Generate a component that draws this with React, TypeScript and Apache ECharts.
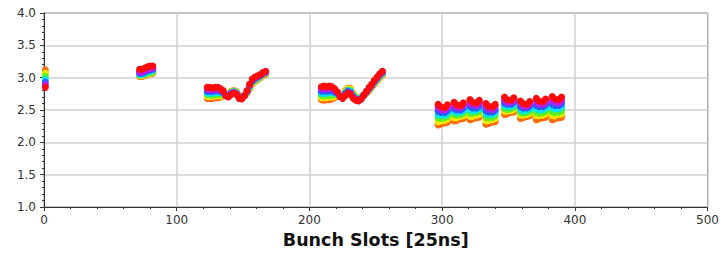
import React, { useEffect, useRef } from "react";
import * as echarts from "echarts";

// Colours of the successive measurements (first -> last)
const seriesColors = ["#ff6a00", "#f2e600", "#58f028", "#00e4f0", "#2a5cff", "#b81cf0", "#ff0a0a"];
const seriesNames = ["t0", "t1", "t2", "t3", "t4", "t5", "t6"];

// Bunch slots of each group
const slotsA = [1];
const slotsB = [72, 74, 76, 78, 80, 82];
const slotsC = [123, 125, 127, 129, 131, 133, 135, 137, 139, 141, 143, 145, 147, 149, 151, 153, 155, 157, 159, 161, 163, 165, 167];
const slotsD = [209, 211, 213, 215, 217, 219, 221, 223, 225, 227, 229, 231, 233, 235, 237, 239, 241, 243, 245, 247, 249, 251, 253, 255];
const slotsE = [
  297, 299, 302, 304, 309, 311, 314, 316, 321, 323, 326, 328, 333, 335, 338, 340,
  347, 349, 352, 354, 359, 361, 364, 366, 371, 373, 376, 378, 383, 385, 388, 390,
];

// Values, one row per measurement (first -> last)
const valuesA = [[3.12], [3.07], [3.02], [2.97], [2.93], [2.89], [2.85]];

const valuesB = [
  [3.02, 3.02, 3.03, 3.05, 3.06, 3.07],
  [3.03, 3.03, 3.04, 3.06, 3.07, 3.08],
  [3.04, 3.04, 3.05, 3.07, 3.08, 3.09],
  [3.05, 3.05, 3.07, 3.09, 3.10, 3.11],
  [3.07, 3.07, 3.09, 3.11, 3.12, 3.13],
  [3.09, 3.09, 3.11, 3.13, 3.14, 3.15],
  [3.13, 3.13, 3.15, 3.17, 3.18, 3.18],
];

const valuesC = [
  [2.68, 2.68, 2.68, 2.69, 2.69, 2.70, 2.72, 2.73, 2.75, 2.79, 2.80, 2.78, 2.73, 2.71, 2.72, 2.76, 2.83, 2.90, 2.94, 2.97, 3.00, 3.03, 3.05],
  [2.71, 2.71, 2.71, 2.72, 2.72, 2.72, 2.73, 2.73, 2.74, 2.78, 2.79, 2.77, 2.72, 2.70, 2.72, 2.77, 2.84, 2.91, 2.95, 2.98, 3.01, 3.04, 3.06],
  [2.74, 2.74, 2.73, 2.74, 2.74, 2.74, 2.75, 2.73, 2.73, 2.77, 2.79, 2.77, 2.71, 2.70, 2.72, 2.77, 2.85, 2.93, 2.96, 2.99, 3.02, 3.05, 3.07],
  [2.76, 2.76, 2.76, 2.77, 2.77, 2.77, 2.76, 2.73, 2.73, 2.77, 2.78, 2.76, 2.71, 2.69, 2.72, 2.78, 2.87, 2.94, 2.98, 3.00, 3.03, 3.06, 3.08],
  [2.79, 2.79, 2.79, 2.80, 2.80, 2.79, 2.77, 2.72, 2.72, 2.76, 2.77, 2.75, 2.70, 2.68, 2.72, 2.79, 2.88, 2.95, 2.99, 3.01, 3.03, 3.06, 3.08],
  [2.82, 2.82, 2.81, 2.82, 2.82, 2.81, 2.79, 2.72, 2.71, 2.75, 2.77, 2.75, 2.69, 2.68, 2.72, 2.79, 2.89, 2.97, 3.00, 3.02, 3.04, 3.07, 3.09],
  [2.85, 2.85, 2.84, 2.85, 2.85, 2.83, 2.80, 2.72, 2.70, 2.74, 2.76, 2.74, 2.68, 2.67, 2.72, 2.80, 2.90, 2.98, 3.01, 3.03, 3.05, 3.08, 3.10],
];

const valuesD = [
  [2.66, 2.65, 2.66, 2.66, 2.67, 2.69, 2.71, 2.72, 2.74, 2.80, 2.84, 2.83, 2.76, 2.70, 2.68, 2.69, 2.72, 2.76, 2.80, 2.85, 2.90, 2.95, 3.00, 3.04],
  [2.69, 2.69, 2.69, 2.70, 2.70, 2.71, 2.72, 2.72, 2.73, 2.79, 2.83, 2.82, 2.75, 2.69, 2.67, 2.69, 2.72, 2.77, 2.81, 2.86, 2.91, 2.96, 3.01, 3.05],
  [2.73, 2.72, 2.73, 2.73, 2.73, 2.74, 2.73, 2.72, 2.72, 2.77, 2.81, 2.80, 2.73, 2.68, 2.67, 2.68, 2.72, 2.77, 2.82, 2.87, 2.92, 2.97, 3.02, 3.06],
  [2.76, 2.76, 2.76, 2.77, 2.77, 2.76, 2.75, 2.72, 2.71, 2.76, 2.80, 2.79, 2.72, 2.68, 2.66, 2.68, 2.73, 2.78, 2.83, 2.88, 2.93, 2.98, 3.03, 3.07],
  [2.79, 2.80, 2.79, 2.80, 2.80, 2.78, 2.76, 2.71, 2.70, 2.75, 2.79, 2.77, 2.71, 2.67, 2.65, 2.68, 2.73, 2.78, 2.83, 2.88, 2.94, 2.99, 3.04, 3.08],
  [2.83, 2.83, 2.83, 2.84, 2.83, 2.81, 2.77, 2.71, 2.69, 2.73, 2.77, 2.76, 2.69, 2.66, 2.65, 2.67, 2.73, 2.79, 2.84, 2.89, 2.95, 3.00, 3.05, 3.09],
  [2.86, 2.87, 2.86, 2.87, 2.86, 2.83, 2.78, 2.71, 2.68, 2.72, 2.76, 2.74, 2.68, 2.65, 2.64, 2.67, 2.73, 2.79, 2.85, 2.90, 2.96, 3.01, 3.06, 3.10],
];

const valuesE = [
  [2.27, 2.28, 2.30, 2.31, 2.33, 2.34, 2.36, 2.37, 2.35, 2.36, 2.38, 2.39, 2.28, 2.29, 2.31, 2.32,
   2.43, 2.44, 2.46, 2.47, 2.37, 2.38, 2.40, 2.41, 2.35, 2.36, 2.38, 2.39, 2.35, 2.36, 2.38, 2.39],
  [2.32, 2.33, 2.34, 2.36, 2.38, 2.38, 2.40, 2.41, 2.40, 2.40, 2.42, 2.43, 2.33, 2.34, 2.35, 2.37,
   2.48, 2.48, 2.49, 2.51, 2.42, 2.42, 2.43, 2.45, 2.41, 2.41, 2.42, 2.44, 2.41, 2.41, 2.43, 2.44],
  [2.38, 2.37, 2.38, 2.40, 2.43, 2.42, 2.43, 2.45, 2.45, 2.45, 2.46, 2.48, 2.39, 2.38, 2.39, 2.41,
   2.52, 2.51, 2.52, 2.54, 2.46, 2.45, 2.46, 2.48, 2.46, 2.45, 2.46, 2.48, 2.47, 2.46, 2.47, 2.49],
  [2.43, 2.42, 2.42, 2.45, 2.48, 2.46, 2.47, 2.49, 2.51, 2.49, 2.50, 2.52, 2.44, 2.43, 2.43, 2.46,
   2.57, 2.55, 2.56, 2.58, 2.51, 2.49, 2.50, 2.52, 2.52, 2.50, 2.51, 2.53, 2.53, 2.52, 2.52, 2.55],
  [2.48, 2.46, 2.46, 2.49, 2.52, 2.50, 2.50, 2.53, 2.56, 2.53, 2.53, 2.56, 2.49, 2.47, 2.47, 2.50,
   2.61, 2.59, 2.59, 2.62, 2.55, 2.53, 2.53, 2.56, 2.57, 2.55, 2.55, 2.58, 2.59, 2.57, 2.57, 2.60],
  [2.54, 2.51, 2.50, 2.54, 2.57, 2.54, 2.54, 2.57, 2.61, 2.58, 2.57, 2.61, 2.55, 2.52, 2.51, 2.55,
   2.66, 2.62, 2.62, 2.65, 2.60, 2.56, 2.56, 2.59, 2.63, 2.59, 2.59, 2.62, 2.65, 2.62, 2.61, 2.65],
  [2.59, 2.55, 2.54, 2.58, 2.62, 2.58, 2.57, 2.61, 2.66, 2.62, 2.61, 2.65, 2.60, 2.56, 2.55, 2.59,
   2.70, 2.66, 2.65, 2.69, 2.64, 2.60, 2.59, 2.63, 2.68, 2.64, 2.63, 2.67, 2.71, 2.67, 2.66, 2.70],
];

const groups: [number[], number[][]][] = [
  [slotsA, valuesA],
  [slotsB, valuesB],
  [slotsC, valuesC],
  [slotsD, valuesD],
  [slotsE, valuesE],
];

const xAxisName = "Bunch Slots [25ns]";
const axisColor = "#333333";
const gridColor = "#d0d0d0";
const font = "DejaVu Sans";

export default function App() {
  const ref = useRef<HTMLDivElement>(null);

  useEffect(() => {
    if (!ref.current) return;
    const chart = echarts.init(ref.current, undefined, { renderer: "svg" });

    const series = seriesColors.map((color, k) => {
      const data: number[][] = [];
      groups.forEach(([slots, values]) => {
        slots.forEach((s, i) => data.push([s, values[k][i]]));
      });
      return {
        name: seriesNames[k],
        type: "scatter",
        symbol: "circle",
        symbolSize: 7,
        clip: true,
        silent: true,
        itemStyle: { color, opacity: 1 },
        emphasis: { disabled: true },
        data,
      };
    });

    chart.setOption({
      animation: false,
      backgroundColor: "#ffffff",
      grid: {
        left: 44,
        right: 11,
        top: 13,
        bottom: 43,
        show: true,
        borderColor: axisColor,
        borderWidth: 1,
        backgroundColor: "transparent",
      },
      xAxis: {
        type: "value",
        min: 0,
        max: 500,
        interval: 100,
        axisLine: { show: true, onZero: false, lineStyle: { color: axisColor, width: 1 } },
        axisTick: { show: true, length: 4, lineStyle: { color: axisColor } },
        minorTick: { show: true, splitNumber: 5, length: 2, lineStyle: { color: axisColor } },
        splitLine: { show: true, lineStyle: { color: gridColor, width: 1.5 } },
        axisLabel: { color: axisColor, fontSize: 12, fontFamily: font, margin: 7 },
        name: xAxisName,
        nameLocation: "middle",
        nameGap: 24,
        nameTextStyle: { fontWeight: "bold", fontSize: 17.5, color: "#111111", fontFamily: font },
      },
      yAxis: {
        type: "value",
        min: 1,
        max: 4,
        interval: 0.5,
        axisLine: { show: true, onZero: false, lineStyle: { color: axisColor, width: 1 } },
        axisTick: { show: true, length: 4, lineStyle: { color: axisColor } },
        minorTick: { show: true, splitNumber: 5, length: 2, lineStyle: { color: axisColor } },
        splitLine: { show: true, lineStyle: { color: gridColor, width: 1.5 } },
        axisLabel: {
          color: axisColor,
          fontSize: 12,
          fontFamily: font,
          margin: 8,
          formatter: (v: number) => v.toFixed(1),
        },
      },
      series,
    });

    return () => chart.dispose();
  }, []);

  return (
    <div
      ref={ref}
      style={{ position: "absolute", left: 0, top: 0, width: 722, height: 254, background: "#fff" }}
    />
  );
}
